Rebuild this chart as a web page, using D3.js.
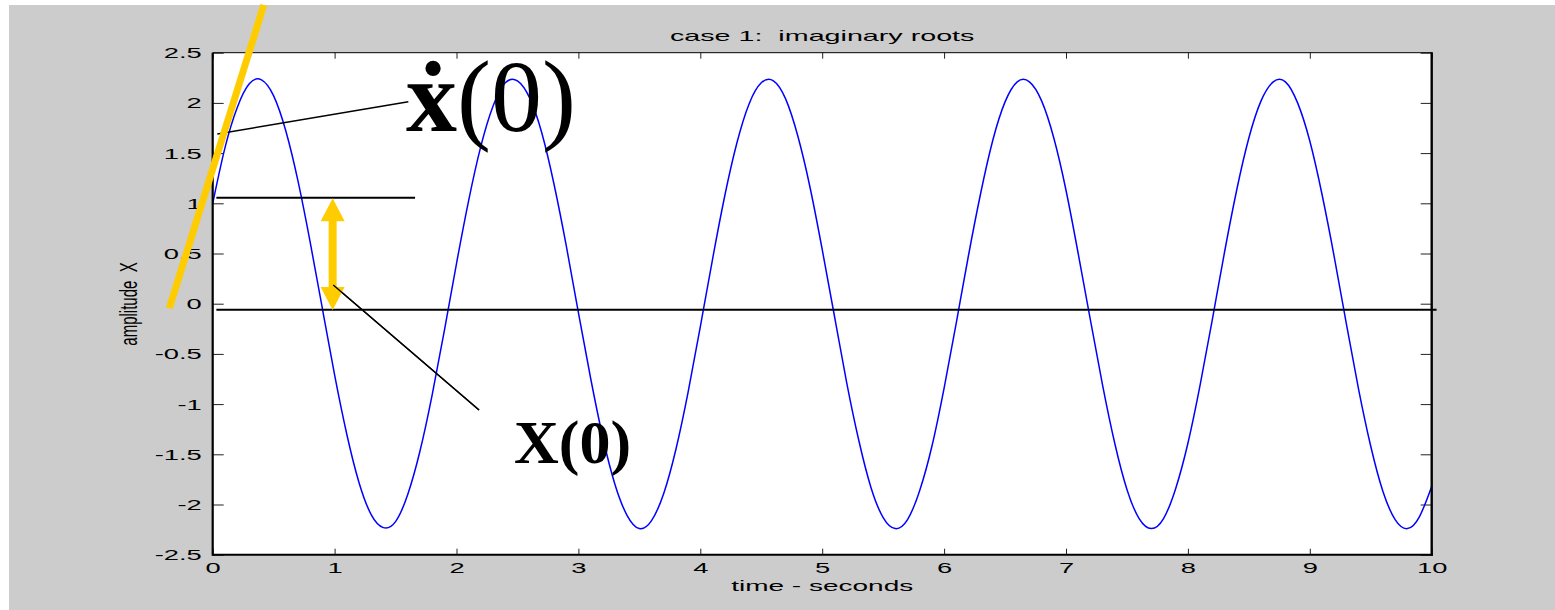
<!DOCTYPE html>
<html>
<head>
<meta charset="utf-8">
<script src="https://cdn.jsdelivr.net/npm/d3@7"></script>
<style>
  html, body { margin: 0; padding: 0; background: #ffffff; }
  svg { display: block; }
  .mtext { font-family: "Liberation Sans", Arial, Helvetica, sans-serif; font-size: 14px; fill: #000; white-space: pre; }
  .serif { font-family: "Liberation Serif", "Times New Roman", serif; fill: #000; }
</style>
</head>
<body>
<svg id="chart" width="1555" height="610"></svg>
<script>
// ---- data ---------------------------------------------------------------
// sampling step of the response (seconds)
const sampleStep = 0.1;
// displacement x(t) sampled every 0.1 s from t = 0 to t = 10
const amplitude = [
   1.00,  1.55,  1.95,  2.19,  2.23,  2.07,  1.72,  1.22,  0.61, -0.05,
  -0.71, -1.30, -1.78, -2.10, -2.23, -2.17, -1.90, -1.47, -0.91, -0.27,
   0.40,  1.03,  1.57,  1.97,  2.20,  2.22,  2.05,  1.70,  1.19,  0.58,
  -0.09, -0.74, -1.33, -1.80, -2.11, -2.24, -2.16, -1.89, -1.45, -0.88,
  -0.23,  0.44,  1.07,  1.60,  1.99,  2.20,  2.22,  2.04,  1.67,  1.16,
   0.54, -0.12, -0.78, -1.36, -1.83, -2.13, -2.24, -2.15, -1.86, -1.42,
  -0.84, -0.19,  0.48,  1.10,  1.63,  2.01,  2.21,  2.21,  2.02,  1.65,
   1.13,  0.50, -0.16, -0.81, -1.39, -1.85, -2.14, -2.24, -2.14, -1.84,
  -1.39, -0.81, -0.16,  0.51,  1.13,  1.65,  2.02,  2.21,  2.21,  2.00,
   1.62,  1.09,  0.47, -0.20, -0.85, -1.42, -1.87, -2.15, -2.24, -2.12,
  -1.82
];
const timeSec = amplitude.map((_, i) => +(i * sampleStep).toFixed(2));

const xTicks = [0, 1, 2, 3, 4, 5, 6, 7, 8, 9, 10];
const xTickLabels = ["0", "1", "2", "3", "4", "5", "6", "7", "8", "9", "10"];
const yTicks = [-2.5, -2, -1.5, -1, -0.5, 0, 0.5, 1, 1.5, 2, 2.5];
const yTickLabels = ["-2.5", "-2", "-1.5", "-1", "-0.5", "0", "0.5", "1", "1.5", "2", "2.5"];

const titleText = "case 1:  imaginary roots";
const xLabelText = "time - seconds";
const yLabelText = "amplitude  X";

// annotation geometry, in data units (t, x)
const referenceLines = [            // horizontal guide lines
  { t0: 0.03, t1: 10.04, level: -0.06 },
  { t0: 0.03, t1: 1.66, level: 1.056 }
];
const slopeLine = { t0: -0.356, x0: -0.046, t1: 0.419, x1: 2.975 };   // initial slope
const offsetArrow = { t: 0.984, from: -0.063, to: 1.05 };            // x(0) offset
const leaderLines = [
  { t0: 0.038, x0: 1.69, t1: 1.605, x1: 2.012 },
  { t0: 0.989, x0: 0.186, t1: 2.185, x1: -1.059 }
];

// ---- layout -------------------------------------------------------------
const svg = d3.select("#chart");
const plot = { left: 212.7, right: 1431.7, top: 52.7, bottom: 554.7 };
const stretch = 1.95;   // horizontal stretch of the figure's small text

const x = d3.scaleLinear().domain([0, 10]).range([plot.left, plot.right]);
const y = d3.scaleLinear().domain([-2.5, 2.5]).range([plot.bottom, plot.top]);

// figure background
svg.append("rect").attr("x", 9).attr("y", 5).attr("width", 1555 - 9).attr("height", 610 - 5)
  .attr("fill", "#cccccc");
// axes background
svg.append("rect").attr("x", plot.left).attr("y", plot.top)
  .attr("width", plot.right - plot.left).attr("height", plot.bottom - plot.top)
  .attr("fill", "#ffffff");

// ---- ticks --------------------------------------------------------------
function tickLines(g) { g.select(".domain").remove(); g.selectAll("line").attr("stroke", "#222").attr("stroke-width", 1); }

svg.append("g").attr("transform", `translate(0,${plot.bottom})`)
  .call(d3.axisBottom(x).tickValues(xTicks).tickSizeInner(-6).tickSizeOuter(0)
    .tickFormat((d, i) => xTickLabels[i]))
  .call(tickLines)
  .call(g => g.selectAll("text")
    .attr("class", "mtext").attr("y", 18.3).attr("dy", 0)
    .attr("transform", `scale(${stretch},1)`)
    .attr("font-size", null).attr("font-family", null));

svg.append("g").attr("transform", `translate(0,${plot.top})`)
  .call(d3.axisTop(x).tickValues(xTicks).tickSizeInner(-6).tickSizeOuter(0).tickFormat(""))
  .call(tickLines);

svg.append("g").attr("transform", `translate(${plot.left},0)`)
  .call(d3.axisLeft(y).tickValues(yTicks).tickSizeInner(-11).tickSizeOuter(0)
    .tickFormat((d, i) => yTickLabels[i]))
  .call(tickLines)
  .call(g => g.selectAll("text")
    .attr("class", "mtext").attr("x", -11 / stretch).attr("dy", "0.36em")
    .attr("transform", `scale(${stretch},1)`)
    .attr("font-size", null).attr("font-family", null));

svg.append("g").attr("transform", `translate(${plot.right},0)`)
  .call(d3.axisRight(y).tickValues(yTicks).tickSizeInner(-11).tickSizeOuter(0).tickFormat(""))
  .call(tickLines);

// ---- response curve -------------------------------------------------------
const line = d3.line()
  .x((d, i) => x(timeSec[i]))
  .y(d => y(d))
  .curve(d3.curveNatural);

svg.append("path").datum(amplitude)
  .attr("d", line)
  .attr("fill", "none")
  .attr("stroke", "#0000ff")
  .attr("stroke-width", 1.5);

// ---- axes box -----------------------------------------------------------
const box = svg.append("g").attr("stroke", "#000").attr("fill", "none");
box.append("line").attr("x1", plot.left).attr("x2", plot.right).attr("y1", plot.top).attr("y2", plot.top).attr("stroke-width", 1);
box.append("line").attr("x1", plot.left).attr("x2", plot.right + 1.2).attr("y1", plot.bottom).attr("y2", plot.bottom).attr("stroke-width", 2);
box.append("line").attr("x1", plot.left).attr("x2", plot.left).attr("y1", plot.top).attr("y2", plot.bottom + 1).attr("stroke-width", 2.2);
box.append("line").attr("x1", plot.right).attr("x2", plot.right).attr("y1", plot.top - 0.5).attr("y2", plot.bottom + 1).attr("stroke-width", 2.4);

// ---- titles -------------------------------------------------------------
const cx = (plot.left + plot.right) / 2;
svg.append("text").attr("class", "mtext").attr("text-anchor", "middle")
  .attr("xml:space", "preserve")
  .attr("transform", `translate(${cx},41) scale(2.05,1)`)
  .text(titleText);
svg.append("text").attr("class", "mtext").attr("text-anchor", "middle")
  .attr("transform", `translate(${cx},591) scale(2.0,1)`)
  .text(xLabelText);
svg.append("text").attr("class", "mtext").attr("text-anchor", "middle")
  .attr("xml:space", "preserve")
  .attr("font-size", 15).style("font-size", "15px")
  .attr("transform", `translate(137,304) scale(1.6,1) rotate(-90)`)
  .text(yLabelText);

// ---- annotations ----------------------------------------------------------
const gold = "#ffcc00";

svg.append("g").selectAll("line").data(referenceLines).join("line")
  .attr("x1", d => x(d.t0)).attr("x2", d => x(d.t1))
  .attr("y1", d => y(d.level)).attr("y2", d => y(d.level))
  .attr("stroke", "#000").attr("stroke-width", 2);

svg.append("g").selectAll("line").data(leaderLines).join("line")
  .attr("x1", d => x(d.t0)).attr("y1", d => y(d.x0))
  .attr("x2", d => x(d.t1)).attr("y2", d => y(d.x1))
  .attr("stroke", "#000").attr("stroke-width", 1.4);

// initial-slope line
svg.append("line")
  .attr("x1", x(slopeLine.t0)).attr("y1", y(slopeLine.x0))
  .attr("x2", x(slopeLine.t1)).attr("y2", y(slopeLine.x1))
  .attr("stroke", gold).attr("stroke-width", 7);

// double-headed arrow marking x(0)
{
  const ax = x(offsetArrow.t), yTop = y(offsetArrow.to), yBot = y(offsetArrow.from);
  const headW = 12, headL = 23, shaft = 4;
  const p = d3.path();
  p.moveTo(ax, yTop);
  p.lineTo(ax + headW, yTop + headL);
  p.lineTo(ax + shaft, yTop + headL);
  p.lineTo(ax + shaft, yBot - headL);
  p.lineTo(ax + headW, yBot - headL);
  p.lineTo(ax, yBot);
  p.lineTo(ax - headW, yBot - headL);
  p.lineTo(ax - shaft, yBot - headL);
  p.lineTo(ax - shaft, yTop + headL);
  p.lineTo(ax - headW, yTop + headL);
  p.closePath();
  svg.append("path").attr("d", p.toString()).attr("fill", gold);
}
// redraw the lower leader on top of the arrow head
svg.append("line")
  .attr("x1", x(leaderLines[1].t0)).attr("y1", y(leaderLines[1].x0))
  .attr("x2", x(leaderLines[1].t1)).attr("y2", y(leaderLines[1].x1))
  .attr("stroke", "#000").attr("stroke-width", 1.4);

// x-dot(0) label: bold x, dot accent pulled back over it, then "(0)"
const vel = svg.append("text").attr("class", "serif").attr("x", 406).attr("y", 131)
  .attr("font-size", 102);
vel.append("tspan").attr("font-weight", "bold").text("x");
vel.append("tspan").attr("font-weight", "bold").attr("dx", -41).text("\u02D9");
vel.append("tspan").attr("dx", 7).text("(0)");

// X(0) label
svg.append("text").attr("class", "serif").attr("x", 514).attr("y", 463)
  .attr("font-size", 62).attr("font-weight", "bold")
  .text("X(0)");
</script>
</body>
</html>
